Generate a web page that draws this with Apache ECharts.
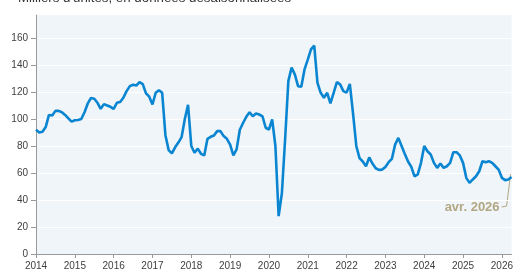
<!DOCTYPE html>
<html>
<head>
<meta charset="utf-8">
<title>Mises en chantier</title>
<script src="https://cdn.jsdelivr.net/npm/echarts@6.0.0/dist/echarts.min.js"></script>
<style>
  html, body { margin: 0; padding: 0; background: #fff; }
  #chart { width: 516px; height: 271px; }
</style>
</head>
<body>
<div id="chart"></div>
<script>
  // milliers d'unités, CVS, un point par mois depuis janv. 2014
  const years = [2014, 2015, 2016, 2017, 2018, 2019, 2020, 2021, 2022, 2023, 2024, 2025, 2026];
  const v2014 = [92, 90, 90.5, 94, 103, 102.5, 106, 106, 105, 103, 100.5, 98];
  const v2015 = [99, 99.3, 100, 105, 111.5, 115.5, 115, 112, 107.5, 111, 110, 109];
  const v2016 = [107.5, 112, 112.5, 115.7, 120.6, 124.3, 125.3, 124.8, 127.3, 125.8, 119, 116.5];
  const v2017 = [110.7, 119.4, 121.3, 119.4, 88, 77, 74.5, 79, 82.5, 86.5, 100, 110.5];
  const v2018 = [80, 75, 78, 74.2, 73, 85.3, 86.8, 87.8, 91, 91, 87.3, 85.3];
  const v2019 = [81, 73, 77.5, 92, 97, 101.6, 105, 102, 104, 103.3, 102, 93.5];
  const v2020 = [92.2, 99.6, 80, 28, 45, 85, 128, 138, 133, 124.3, 123.8, 136.7];
  const v2021 = [144, 151.5, 154.4, 126.8, 119.4, 115.7, 119.4, 111.5, 119.4, 127.3, 125.6, 120.6];
  const v2022 = [119.5, 126, 104, 80, 71, 68.5, 65, 71.5, 67, 63.5, 62.3, 62.5];
  const v2023 = [64.5, 68, 70.5, 81, 86, 80, 74, 68.5, 64.5, 57.5, 59, 67.5];
  const v2024 = [80, 76.1, 73.7, 67.5, 63.8, 67, 63.8, 65, 67.5, 75.4, 75.4, 73];
  const v2025 = [67.5, 56.4, 52.7, 55.2, 57.6, 61.3, 68.7, 68, 68.7, 67.5, 65, 62.5];
  const v2026 = [56.4, 54.7, 55.2, 57];
  const yTicks = [0, 20, 40, 60, 80, 100, 120, 140, 160];
  const lastLabel = 'avr. 2026';

  const perYear = [v2014, v2015, v2016, v2017, v2018, v2019, v2020, v2021, v2022, v2023, v2024, v2025, v2026];
  const months = [];
  const values = [];
  perYear.forEach((arr, i) => {
    arr.forEach((v, m) => {
      months.push(years[i] + '-' + String(m + 1).padStart(2, '0'));
      values.push(v);
    });
  });

  const font = 'Liberation Sans, Arial, sans-serif';
  const isJan = (idx) => idx % 12 === 0;

  const chart = echarts.init(document.getElementById('chart'));
  chart.setOption({
    animation: false,
    grid: {
      left: 36, right: 0, top: 15, bottom: 16.5,
      show: true, backgroundColor: '#eff5f9', borderWidth: 0
    },
    xAxis: {
      type: 'category',
      data: months,
      boundaryGap: false,
      axisLine: { lineStyle: { color: '#9a9a9a', width: 1 } },
      axisTick: { interval: isJan, length: 4, lineStyle: { color: '#9a9a9a' } },
      axisLabel: {
        interval: isJan, margin: 7, color: '#404040', fontSize: 10, fontFamily: font,
        formatter: (v) => v.slice(0, 4)
      },
      splitLine: { show: false }
    },
    yAxis: {
      type: 'value',
      min: 0, max: 177, interval: 20,
      axisLine: { show: true, lineStyle: { color: '#9a9a9a', width: 1 } },
      axisTick: { show: true, length: 5, customValues: yTicks, lineStyle: { color: '#9a9a9a' } },
      axisLabel: { customValues: yTicks, margin: 8, color: '#404040', fontSize: 10, fontFamily: font },
      splitLine: { lineStyle: { color: '#ffffff', width: 1 } }
    },
    series: [{
      type: 'line',
      data: values,
      symbol: 'none',
      lineStyle: { color: '#0a85d1', width: 2.6 },
      z: 3
    }],
    graphic: [{
      type: 'text', id: 'title', left: 18, top: -8,
      style: {
        text: "Milliers d'unités, en données désaisonnalisées",
        fill: '#333', font: '13.3px ' + font
      }
    }]
  });

  // étiquette du dernier point, placée à partir de sa position réelle
  const last = values.length - 1;
  const [px, py] = chart.convertToPixel({ seriesIndex: 0 }, [last, values[last]]);
  chart.setOption({
    graphic: [{
      type: 'polyline', id: 'leader',
      shape: { points: [[px - 1, py - 3], [px - 5, py + 29], [px - 10, py + 30]] },
      style: { stroke: '#b3a783', lineWidth: 1, fill: null }
    }, {
      type: 'text', id: 'lastLabel', x: px - 12, y: py + 30,
      style: {
        text: lastLabel, fill: '#b3a783', font: 'bold 13px ' + font,
        align: 'right', verticalAlign: 'middle'
      }
    }]
  });
</script>
</body>
</html>
